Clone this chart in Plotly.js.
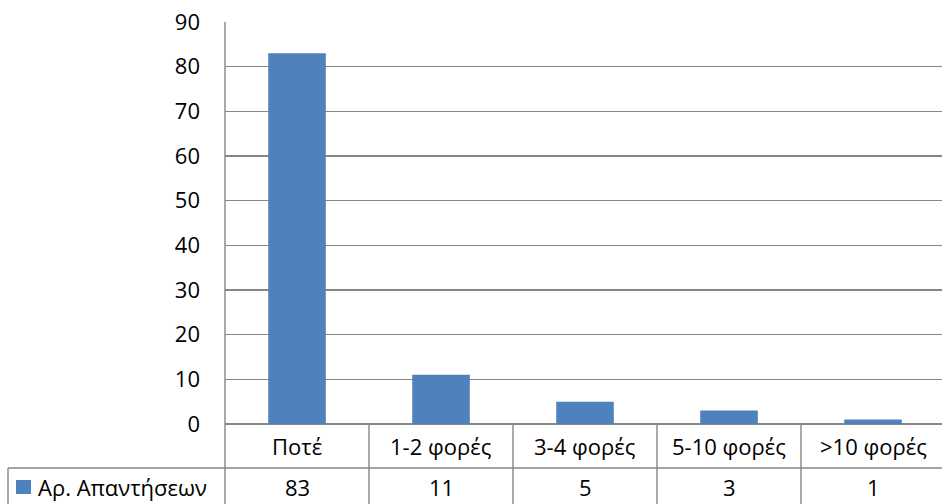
<!DOCTYPE html>
<html><head><meta charset="utf-8">
<script src="https://cdn.plot.ly/plotly-3.0.1.min.js"></script>
<style>html,body{margin:0;padding:0;background:#fff}#chart{width:942px;height:504px}</style>
</head><body><div id="chart"></div>
<script>
const categories = ["Ποτέ", "1-2 φορές", "3-4 φορές", "5-10 φορές", ">10 φορές"];
const seriesName = "Αρ. Απαντήσεων";
const values = [83, 11, 5, 3, 1];
const yTicks = [0, 10, 20, 30, 40, 50, 60, 70, 80, 90];

const barColor = "#4F81BD";
const lineColor = "#868686";
const font = {family: "Open Sans, Noto Sans, sans-serif", size: 22, color: "#000"};

const plotTop = 22, plotBottom = 424, H = 504;
const plotH = plotBottom - plotTop;
const py = px => (plotBottom - px) / plotH; // pixel y -> paper y
const rowMid1 = py(446), rowLine = py(468), rowMid2 = py(487), rowBottom = py(510);
const plotL = 225, plotW = 942 - plotL;
const pxX = px => (px - plotL) / plotW;

const shapes = [];
const annotations = [];
shapes.push({type: "line", xref: "paper", yref: "paper", x0: pxX(8), x1: 1.01, y0: rowLine, y1: rowLine, line: {color: lineColor, width: 1.4}});
shapes.push({type: "line", xref: "paper", yref: "paper", x0: 0, x1: 0, y0: 1, y1: rowBottom, line: {color: lineColor, width: 1.4}});
shapes.push({type: "line", xref: "paper", yref: "paper", x0: pxX(8), x1: pxX(8), y0: rowLine, y1: rowBottom, line: {color: lineColor, width: 1.4}});
for (let i = 0; i < categories.length - 1; i++) {
  shapes.push({type: "line", xref: "x", yref: "paper", x0: i + 0.5, x1: i + 0.5, y0: 0, y1: rowBottom, line: {color: lineColor, width: 1.4}});
}
categories.forEach((c, i) => {
  annotations.push({x: i, y: rowMid1, xref: "x", yref: "paper", text: c, showarrow: false, font: font, xanchor: "center", yanchor: "middle"});
  annotations.push({x: i, y: rowMid2, xref: "x", yref: "paper", text: String(values[i]), showarrow: false, font: font, xanchor: "center", yanchor: "middle"});
});
shapes.push({type: "rect", xref: "paper", yref: "paper", x0: pxX(16), x1: pxX(31), y0: py(494), y1: py(480), fillcolor: barColor, line: {width: 0}});
annotations.push({x: pxX(36), y: rowMid2, xref: "paper", yref: "paper", text: seriesName, showarrow: false, font: font, xanchor: "left", yanchor: "middle"});

const data = [{
  type: "bar", x: categories.map((c, i) => i), y: values, name: seriesName,
  marker: {color: barColor}, width: 0.4, hoverinfo: "skip"
}];

const layout = {
  width: 942, height: 504,
  margin: {l: plotL, r: 0, t: plotTop, b: H - plotBottom, pad: 0},
  paper_bgcolor: "#fff", plot_bgcolor: "#fff",
  showlegend: false,
  font: font,
  xaxis: {
    type: "linear", range: [-0.5, -0.5 + plotW / 144], showticklabels: false, showgrid: false,
    zeroline: false, showline: false, ticks: "", fixedrange: true
  },
  yaxis: {
    range: [0, 90], tickvals: yTicks, ticktext: yTicks.map(String), showgrid: true,
    gridcolor: lineColor, gridwidth: 1.4, zeroline: true, zerolinecolor: lineColor, zerolinewidth: 1.4,
    showline: false, ticks: "", ticklabelstandoff: 24, tickfont: font, fixedrange: true
  },
  shapes: shapes,
  annotations: annotations
};

Plotly.newPlot("chart", data, layout, {displayModeBar: false, staticPlot: true});
</script>
</body></html>
